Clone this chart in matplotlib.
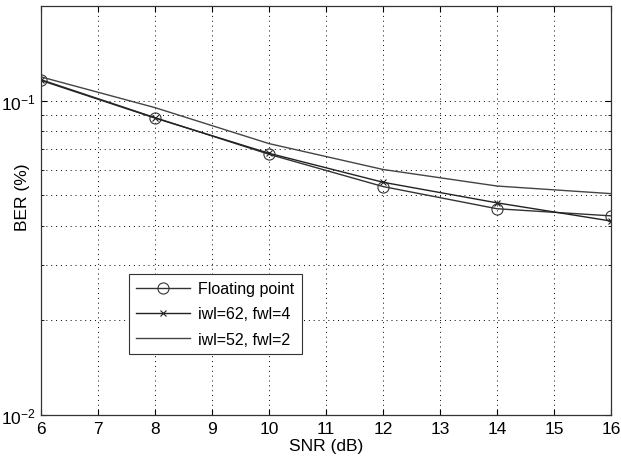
import matplotlib
matplotlib.use('Agg')
import matplotlib.pyplot as plt
from matplotlib.ticker import LogLocator, NullFormatter

plt.rcParams.update({
    'font.family': ['Liberation Sans', 'DejaVu Sans'],
    'font.size': 12.5,
    'mathtext.fontset': 'custom',
    'mathtext.rm': 'Liberation Sans',
})

snr = [6, 8, 10, 12, 14, 16]
ber_float = [0.1166, 0.0883, 0.0675, 0.0533, 0.0453, 0.0430]
ber_62_4 = [0.1160, 0.0880, 0.0680, 0.0550, 0.0473, 0.0414]
ber_52_2 = [0.1190, 0.0950, 0.0730, 0.0604, 0.0535, 0.0506]

fig = plt.figure(figsize=(6.21, 4.64), dpi=100)
ax = fig.add_axes([41 / 621, 1 - 416 / 464, 570 / 621, 409 / 464])

ax.plot(snr, ber_float, '-o', color='#333333', lw=1.0, ms=8, mfc='none', mew=0.8,
        label='Floating point')
ax.plot(snr, ber_62_4, '-x', color='#222222', lw=1.0, ms=4, mew=0.8,
        label='iwl=62, fwl=4')
ax.plot(snr, ber_52_2, '-', color='#444444', lw=1.0, label='iwl=52, fwl=2')

ax.set_yscale('log')
ax.set_xlim(6, 16)
ax.set_ylim(0.01, 0.2)
ax.set_xticks(range(6, 17))
ax.yaxis.set_major_locator(LogLocator(base=10))
ax.yaxis.set_minor_locator(LogLocator(base=10, subs=range(2, 10)))
ax.yaxis.set_minor_formatter(NullFormatter())

ax.grid(True, which='major', ls=(0, (1, 4)), color='k', lw=0.7)
ax.grid(True, which='minor', axis='y', ls=(0, (1, 4)), color='k', lw=0.7)
ax.tick_params(which='both', direction='in', top=True, right=True)
ax.tick_params(which='major', length=4, pad=4)
ax.tick_params(which='minor', length=2)
for s in ax.spines.values():
    s.set_color('#333333')
    s.set_linewidth(0.9)

ax.set_xlabel('SNR (dB)', labelpad=2)
ax.set_ylabel('BER (%)')
ax.yaxis.set_label_coords(-0.019, 0.535)

leg = ax.legend(loc='lower left', bbox_to_anchor=(0.154, 0.149), fancybox=False,
                edgecolor='#333333', framealpha=1, borderaxespad=0, handlelength=3.4,
                fontsize=11.5, labelspacing=0.65, borderpad=0.45, handletextpad=0.5)
leg.get_frame().set_linewidth(0.8)

fig.savefig('out.png', dpi=100)
